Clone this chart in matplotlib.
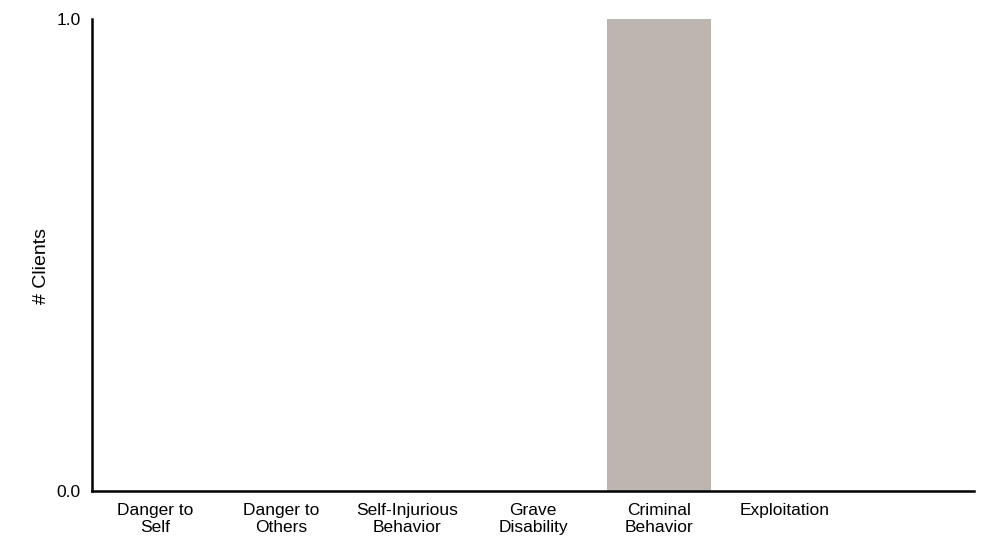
import matplotlib
matplotlib.use("Agg")
import matplotlib.pyplot as plt
import numpy as np

plt.rcParams['font.family'] = ['Liberation Sans', 'DejaVu Sans']

categories = ["Danger to\nSelf", "Danger to\nOthers", "Self-Injurious\nBehavior",
              "Grave\nDisability", "Criminal\nBehavior", "Exploitation"]
clients = [0, 0, 0, 0, 1, 0]
yticks = [0.0, 1.0]

fig = plt.figure(figsize=(9.94, 5.49), dpi=100)
ax = fig.add_axes([0.0926, 0.1057, 0.8873, 0.8597])

x = np.arange(len(categories))
ax.bar(x, clients, width=0.82, color='#bdb5af')

ax.set_xlim(-0.5, len(categories) + 0.5)
ax.set_ylim(0, 1)
ax.set_xticks(x)
ax.set_xticklabels(categories, fontsize=12.5, va='top', linespacing=1.12)
ax.set_yticks(yticks)
ax.set_yticklabels(['{:.1f}'.format(v) for v in yticks], fontsize=12.5)
ax.tick_params(axis='x', length=0, pad=9)
ax.tick_params(axis='y', length=0, pad=8)
ax.set_ylabel("# Clients", fontsize=14)
ax.yaxis.set_label_coords(-0.048, 0.477)

for s in ['top', 'right']:
    ax.spines[s].set_visible(False)
for s in ['left', 'bottom']:
    ax.spines[s].set_linewidth(1.8)

fig.savefig("out.png", dpi=100)
